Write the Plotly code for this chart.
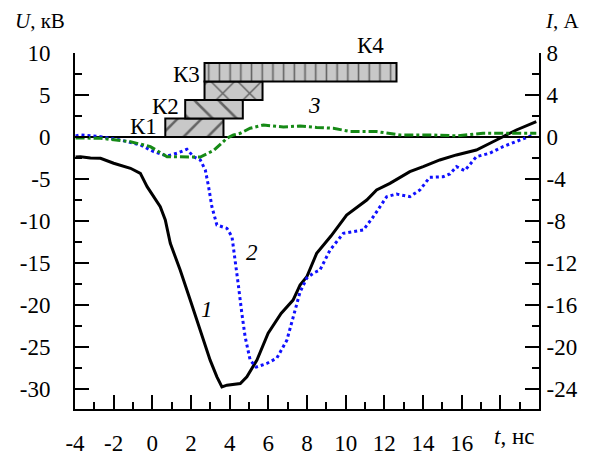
import plotly.graph_objects as go

# ---- data ----
# curve 1: U, kV (left axis)
t1 = [-3.97, -3.72, -3.2, -2.68, -2.0, -1.13, -0.62, -0.27, 0.41, 0.67, 0.93, 1.44, 1.96,
      2.47, 2.99, 3.34, 3.60, 3.86, 4.2, 4.55, 4.89, 5.41, 5.99, 6.66, 7.28, 7.64, 7.99,
      8.50, 9.24, 10.05, 11.09, 11.60, 12.29, 13.32, 14.01, 14.87, 15.73, 16.76, 17.80,
      18.83, 19.86]
u1 = [-2.38, -2.35, -2.5, -2.54, -3.13, -3.73, -4.33, -5.92, -8.31, -9.89, -12.67, -15.85,
      -19.43, -23.0, -26.58, -28.57, -29.76, -29.56, -29.5, -29.36, -28.57, -26.58, -23.36,
      -21.01, -19.43, -17.64, -16.65, -13.86, -11.8, -9.3, -7.51, -6.32, -5.53, -4.13,
      -3.54, -2.74, -2.14, -1.55, -0.36, 0.83, 1.83]

# curve 2: I, A (right axis)
t2 = [-3.97, -3.72, -2.68, -1.65, -0.62, 0.07, 0.76, 1.28, 1.79, 2.13, 2.48, 2.74, 2.91,
      3.08, 3.34, 3.86, 4.12, 4.29, 4.46, 4.63, 4.80, 5.06, 5.37, 5.92, 6.44, 6.96, 7.30,
      7.64, 7.99, 8.33, 8.67, 9.19, 9.88, 10.91, 11.43, 12.12, 12.63, 13.32, 13.84, 14.35,
      15.04, 15.39, 15.73, 16.16, 16.76, 17.45, 18.14, 18.83, 19.69]
i2 = [0.10, 0.19, 0.03, -0.29, -0.76, -1.40, -1.81, -1.55, -1.17, -1.88, -2.19, -3.15,
      -4.74, -6.65, -8.39, -8.71, -9.51, -11.73, -14.27, -16.81, -19.04, -21.26, -21.93,
      -21.58, -21.07, -19.36, -16.97, -14.78, -13.44, -12.97, -12.68, -10.78, -9.18, -8.87,
      -7.60, -5.69, -5.44, -5.69, -5.05, -3.84, -3.79, -3.53, -2.83, -3.21, -1.88, -1.55,
      -0.92, -0.45, 0.19]

# curve 3: I, A (right axis)
t3 = [-3.97, -2.68, -1.13, -0.10, 0.76, 1.44, 2.48, 3.17, 3.86, 4.20, 4.55, 5.06, 5.75,
      6.78, 7.64, 8.50, 9.36, 10.22, 11.60, 12.80, 14.52, 15.73, 17.10, 18.48, 19.86]
i3 = [-0.10, -0.12, -0.45, -0.92, -1.88, -1.91, -1.91, -1.29, -0.12, 0.19, 0.35, 0.83,
      1.14, 0.95, 1.05, 0.91, 0.83, 0.52, 0.51, 0.19, 0.19, 0.10, 0.35, 0.35, 0.35]

# time windows (bars), kV scale
bar_names = ["К1", "К2", "К3", "К4"]
bar_start = [0.67, 1.70, 2.70, 2.70]
bar_end = [3.68, 4.68, 5.70, 12.63]
bar_low = [0.0, 2.2, 4.4, 6.6]
bar_high = [2.2, 4.4, 6.6, 8.8]
bar_shapes = ["/", "\\", "x", "|"]
bar_psize = [17, 17, 19, 10.7]

x_ticks = [-4, -2, 0, 2, 4, 6, 8, 10, 12, 14, 16, 18]
x_ticktext = ["-4", "-2", "0", "2", "4", "6", "8", "10", "12", "14", "16", ""]
yl_ticks = [10, 5, 0, -5, -10, -15, -20, -25, -30]
yl_ticktext = ["10", "5", "0", "-5", "-10", "-15", "-20", "-25", "-30"]
yr_ticks = [8, 4, 0, -4, -8, -12, -16, -20, -24]
yr_ticktext = ["8", "4", "0", "-4", "-8", "-12", "-16", "-20", "-24"]

X_RANGE = [-4, 20]
YL_RANGE = [-32.4, 10]
RATIO = 0.8  # A per kV on the twin axis
YR_RANGE = [YL_RANGE[0] * RATIO, YL_RANGE[1] * RATIO]

FONT = "Liberation Serif"
FS = 23

fig = go.Figure()

fig.add_trace(go.Scatter(x=t1, y=u1, mode="lines", line=dict(color="black", width=3),
                         showlegend=False))
fig.add_trace(go.Scatter(x=t2, y=i2, mode="lines", yaxis="y2",
                         line=dict(color="#1010ff", width=3, dash="dot"), showlegend=False))
fig.add_trace(go.Scatter(x=t3, y=i3, mode="lines", yaxis="y2",
                         line=dict(color="#168a16", width=3, dash="dashdot"), showlegend=False))

for n, s, e, lo, hi, sh, ps in zip(bar_names, bar_start, bar_end, bar_low, bar_high,
                                   bar_shapes, bar_psize):
    fig.add_trace(go.Bar(
        orientation="h", y=[(lo + hi) / 2], x=[e - s], base=[s], width=[hi - lo],
        marker=dict(color="#c8c8c8", line=dict(color="black", width=2),
                    pattern=dict(shape=sh, size=ps, solidity=0.15, fgcolor="black",
                                 bgcolor="#c8c8c8", fillmode="overlay")),
        showlegend=False, name=n))

annots = [
    dict(x=bar_start[0], y=1.25, text="К1", xanchor="right", xshift=-6),
    dict(x=bar_start[1], y=3.6, text="К2", xanchor="right", xshift=-4),
    dict(x=bar_start[2], y=7.4, text="К3", xanchor="right", xshift=-3),
    dict(x=2.85, y=-20.5, text="<i>1</i>", xanchor="center"),
    dict(x=5.16, y=-13.8, text="<i>2</i>", xanchor="center"),
    dict(x=8.4, y=3.7, text="<i>3</i>", xanchor="center"),
]
for a in annots:
    fig.add_annotation(xref="x", yref="y", showarrow=False, yanchor="middle",
                       font=dict(family=FONT, size=FS, color="black"), **a)

fig.add_annotation(xref="x", yref="paper", x=11.3, y=1.02, text="К4",
                   showarrow=False, xanchor="center", yanchor="middle",
                   font=dict(family=FONT, size=FS, color="black"))
fig.add_annotation(xref="paper", yref="paper", x=-0.133, y=1.091, text="<i>U</i>, кВ",
                   showarrow=False, xanchor="left", yanchor="middle",
                   font=dict(family=FONT, size=21, color="black"))
fig.add_annotation(xref="paper", yref="paper", x=1.092, y=1.091, text="<i>I</i>, А",
                   showarrow=False, xanchor="right", yanchor="middle",
                   font=dict(family=FONT, size=21, color="black"))
fig.add_annotation(xref="x", yref="paper", x=18.7, y=-0.078, text="<i>t</i>, нс",
                   showarrow=False, xanchor="center", yanchor="middle",
                   font=dict(family=FONT, size=FS, color="black"))

axis_common = dict(showline=True, linecolor="black", linewidth=2, ticks="inside",
                   ticklen=14, tickwidth=2, tickcolor="black", showgrid=False,
                   automargin=False,
                   tickfont=dict(family=FONT, size=FS, color="black"))

# the page body has an 8px default margin, so the figure is sized to fit
fig.update_layout(
    template="none",
    width=585, height=447,
    margin=dict(l=66.5, r=54, t=45.3, b=45.7, autoexpand=False),
    paper_bgcolor="white", plot_bgcolor="white",
    barmode="overlay",
    xaxis=dict(range=X_RANGE, tickmode="array", tickvals=x_ticks, ticktext=x_ticktext,
               zeroline=False, ticklabelstandoff=12,
               minor=dict(dtick=1, ticks="inside", ticklen=7, tickwidth=2, tickcolor="black"),
               **axis_common),
    yaxis=dict(range=YL_RANGE, tickmode="array", tickvals=yl_ticks, ticktext=yl_ticktext,
               zeroline=True, zerolinecolor="black", zerolinewidth=2, ticklabelstandoff=18,
               minor=dict(dtick=2.5, ticks="inside", ticklen=7, tickwidth=2, tickcolor="black"),
               **axis_common),
    yaxis2=dict(range=YR_RANGE, overlaying="y", side="right", tickmode="array",
                tickvals=yr_ticks, ticktext=yr_ticktext, zeroline=False, ticklabelstandoff=1,
                minor=dict(dtick=2, ticks="inside", ticklen=7, tickwidth=2, tickcolor="black"),
                **axis_common),
)

fig.write_html("out.html")
